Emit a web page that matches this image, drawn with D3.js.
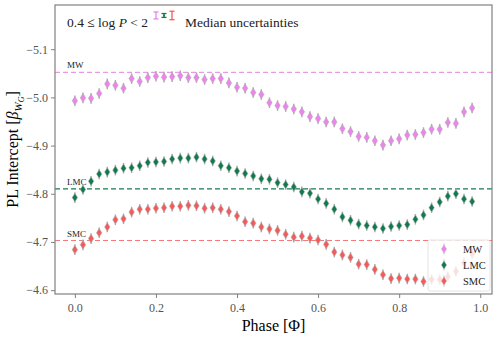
<!DOCTYPE html>
<html>
<head>
<meta charset="utf-8">
<script src="https://cdn.jsdelivr.net/npm/d3@7"></script>
<style>
  body { margin: 0; background: #fff; }
  text { font-family: "Liberation Serif", "DejaVu Serif", serif; }
</style>
</head>
<body>
<div id="chart"></div>
<script>
// phase bins 0.00 ... 0.98
var phase = d3.range(50).map(function(i) { return +(i * 0.02).toFixed(2); });

var mwVals = [-4.993, -4.999, -4.998, -5.008, -5.028, -5.025, -5.019, -5.039, -5.033, -5.041,
              -5.044, -5.042, -5.043, -5.045, -5.041, -5.041, -5.037, -5.039, -5.039, -5.030,
              -5.021, -5.019, -5.010, -5.006, -4.989, -4.983, -4.981, -4.976, -4.970, -4.960,
              -4.956, -4.949, -4.949, -4.935, -4.929, -4.919, -4.917, -4.910, -4.901, -4.910,
              -4.914, -4.922, -4.923, -4.927, -4.934, -4.934, -4.948, -4.946, -4.970, -4.978];

var lmcVals = [-4.792, -4.809, -4.826, -4.841, -4.845, -4.849, -4.853, -4.854, -4.858, -4.865,
               -4.866, -4.867, -4.872, -4.874, -4.874, -4.876, -4.872, -4.868, -4.858, -4.854,
               -4.847, -4.842, -4.837, -4.831, -4.830, -4.823, -4.819, -4.814, -4.804, -4.801,
               -4.789, -4.780, -4.768, -4.752, -4.745, -4.737, -4.734, -4.731, -4.728, -4.732,
               -4.734, -4.736, -4.747, -4.756, -4.771, -4.783, -4.795, -4.800, -4.789, -4.784];

var smcVals = [-4.684, -4.694, -4.707, -4.719, -4.731, -4.746, -4.748, -4.762, -4.768, -4.768,
               -4.770, -4.771, -4.774, -4.774, -4.776, -4.775, -4.770, -4.771, -4.768, -4.763,
               -4.754, -4.742, -4.739, -4.731, -4.727, -4.724, -4.716, -4.710, -4.712, -4.708,
               -4.704, -4.695, -4.679, -4.673, -4.668, -4.654, -4.653, -4.643, -4.632, -4.624,
               -4.625, -4.623, -4.623, -4.618, -4.622, -4.622, -4.628, -4.639, -4.657, -4.676];

var galaxies = ["MW", "LMC", "SMC"];
var colors = ["#ee82ee", "#0f7a4c", "#f55a5a"];
var lineColors = ["#e79ae7", "#137d50", "#f77a7a"];
var refLevels = [-5.052, -4.810, -4.703];   // mean intercept of each galaxy
var medErr = [0.0072, 0.004, 0.0088];         // median uncertainties
var xTicks = [0.0, 0.2, 0.4, 0.6, 0.8, 1.0];
var yTicks = [-5.1, -5.0, -4.9, -4.8, -4.7, -4.6];

var W = 498, H = 337;
var margin = {top: 5, right: 6, bottom: 43, left: 55},
    width = W - margin.left - margin.right,
    height = H - margin.top - margin.bottom;

var svg = d3.select("#chart").append("svg")
    .attr("width", W).attr("height", H)
  .append("g")
    .attr("transform", "translate(" + margin.left + "," + margin.top + ")");

var x = d3.scaleLinear().domain([-0.049, 1.029]).range([0, width]);
var y = d3.scaleLinear().domain([-5.1917, -4.592]).range([0, height]);

var series = [mwVals, lmcVals, smcVals];

// dashed reference lines
svg.selectAll(".ref")
    .data(refLevels)
    .enter().append("line")
    .attr("x1", 0).attr("x2", width)
    .attr("y1", function(d) { return y(d); })
    .attr("y2", function(d) { return y(d); })
    .attr("stroke", function(d, i) { return lineColors[i]; })
    .attr("stroke-width", 1.2)
    .attr("stroke-dasharray", "5,3");

svg.selectAll(".reflabel")
    .data(refLevels)
    .enter().append("text")
    .attr("x", 12)
    .attr("y", function(d) { return y(d) - 4; })
    .style("font-size", "9px")
    .attr("fill", "#222")
    .text(function(d, i) { return galaxies[i]; });

var diamond = "M0,-4.3L2.7,0L0,4.3L-2.7,0Z";

series.forEach(function(vals, k) {
    var g = svg.append("g");
    var pts = vals.map(function(v, i) { return {p: phase[i], v: v}; });
    g.selectAll("line.err")
        .data(pts).enter().append("line")
        .attr("x1", function(d) { return x(d.p); })
        .attr("x2", function(d) { return x(d.p); })
        .attr("y1", function(d) { return y(d.v - 0.011); })
        .attr("y2", function(d) { return y(d.v + 0.011); })
        .attr("stroke", "#aaa")
        .attr("stroke-width", 1.4);
    g.selectAll("path")
        .data(pts).enter().append("path")
        .attr("d", diamond)
        .attr("transform", function(d) { return "translate(" + x(d.p) + "," + y(d.v) + ")"; })
        .attr("fill", colors[k])
        .attr("stroke", "#b0b0b0")
        .attr("stroke-width", 0.6);
});

// frame
svg.append("rect")
    .attr("width", width).attr("height", height)
    .attr("fill", "none")
    .attr("stroke", "#808080")
    .attr("stroke-width", 1.2);

var xAxis = svg.append("g")
    .attr("transform", "translate(0," + height + ")")
    .call(d3.axisBottom(x).tickValues(xTicks).tickFormat(d3.format(".1f")).tickSize(4).tickSizeOuter(0));
var yAxis = svg.append("g")
    .call(d3.axisLeft(y).tickValues(yTicks).tickFormat(function(d) { return "\u2212" + Math.abs(d).toFixed(1); }).tickSize(4).tickSizeOuter(0));

[xAxis, yAxis].forEach(function(a) {
    a.select(".domain").remove();
    a.selectAll(".tick line").attr("stroke", "#808080").attr("stroke-width", 1);
    a.selectAll(".tick text")
        .attr("fill", "#555")
        .style("font-size", "12px")
        .style("font-family", "'Liberation Serif', serif");
});
xAxis.selectAll(".tick text").attr("dy", "0.95em");

// axis labels
svg.append("text")
    .attr("x", width / 2)
    .attr("y", height + 37)
    .attr("text-anchor", "middle")
    .style("font-size", "16px")
    .text("Phase [\u03a6]");

var yl = svg.append("text")
    .attr("transform", "translate(" + (-37) + "," + (height / 2) + ") rotate(-90)")
    .attr("text-anchor", "middle")
    .style("font-size", "16px");
yl.append("tspan").text("PL Intercept [");
yl.append("tspan").style("font-style", "italic").text("\u03b2");
yl.append("tspan").attr("dy", 4).style("font-size", "11px").style("font-style", "italic").text("W");
yl.append("tspan").attr("dy", 2).style("font-size", "8px").style("font-style", "italic").text("G");
yl.append("tspan").attr("dy", -6).text("]");

// header: period range and median uncertainties
var head = svg.append("text")
    .attr("x", 12).attr("y", 22)
    .style("font-size", "13.5px")
    .attr("fill", "#222");
head.append("tspan").text("0.4 \u2264 log ");
head.append("tspan").style("font-style", "italic").text("P");
head.append("tspan").text(" < 2");

var yMid = y(-5.17);
medErr.forEach(function(e, k) {
    var cx = 101 + k * 8;
    var h = y(-5.17 + e) - yMid;
    var gb = svg.append("g").attr("stroke", colors[k]).attr("stroke-width", 1.3);
    gb.append("line").attr("x1", cx).attr("x2", cx).attr("y1", yMid - h).attr("y2", yMid + h);
    gb.append("line").attr("x1", cx - 2.5).attr("x2", cx + 2.5).attr("y1", yMid - h).attr("y2", yMid - h);
    gb.append("line").attr("x1", cx - 2.5).attr("x2", cx + 2.5).attr("y1", yMid + h).attr("y2", yMid + h);
    if (k == 1) {
        gb.append("path").attr("d", diamond).attr("transform", "translate(" + cx + "," + yMid + ") scale(0.35)")
            .attr("fill", colors[k]).attr("stroke", "none");
    }
});
svg.append("text")
    .attr("x", 130).attr("y", 22)
    .style("font-size", "13.5px")
    .attr("fill", "#222")
    .text("Median uncertainties");

// legend
var lg = svg.append("g").attr("transform", "translate(" + (width - 64) + "," + (height - 54) + ")");
lg.append("rect")
    .attr("width", 62).attr("height", 51)
    .attr("rx", 2)
    .attr("fill", "white").attr("fill-opacity", 0.8)
    .attr("stroke", "#ddd").attr("stroke-width", 0.8);
galaxies.forEach(function(name, k) {
    var yy = 9 + k * 16;
    lg.append("line").attr("x1", 16).attr("x2", 16).attr("y1", yy - 5.5).attr("y2", yy + 5.5)
        .attr("stroke", "#ccc").attr("stroke-width", 1.2);
    lg.append("path").attr("d", diamond)
        .attr("transform", "translate(16," + yy + ")")
        .attr("fill", colors[k]).attr("stroke", "#ccc").attr("stroke-width", 0.5);
    lg.append("text").attr("x", 35).attr("y", yy + 3.5)
        .style("font-size", "10.5px")
        .attr("fill", "#222")
        .text(name);
});
</script>
</body>
</html>
